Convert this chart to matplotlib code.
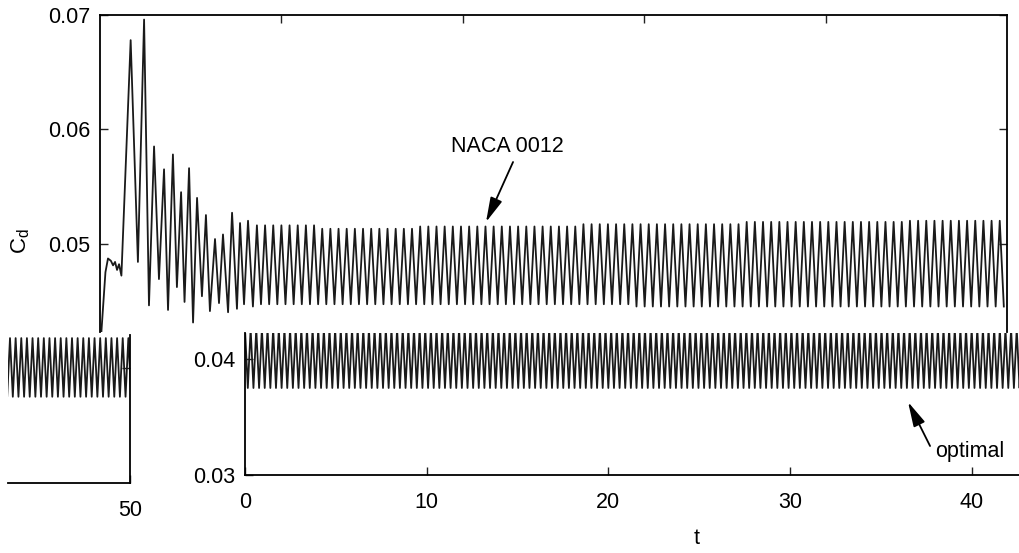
# Drag coefficient history: NACA 0012 (top) against the optimal shape (bottom)

import matplotlib.pyplot as plt
import numpy as np

plt.rcParams['font.family'] = ['Liberation Sans', 'DejaVu Sans']
plt.rcParams['mathtext.fontset'] = 'custom'
plt.rcParams['mathtext.rm'] = 'Liberation Sans'

W, H = 1020, 553
FS = 15.5

# NACA 0012 start-up transient, read extreme by extreme (t, Cd)
naca_t = [0.0, 0.15, 0.30, 0.44, 0.60, 0.72, 0.83, 0.94, 1.05, 1.18,
          1.69, 2.09, 2.43, 2.70, 2.98, 3.25, 3.53, 3.75, 4.02, 4.24,
          4.47, 4.66, 4.91, 5.13, 5.35, 5.62, 5.84, 6.06, 6.34, 6.56,
          6.78, 7.06, 7.28, 7.55, 7.72, 7.94, 8.16, 8.43]
naca_cd = [0.0405, 0.0440, 0.0475, 0.0487, 0.0485, 0.0481, 0.0484, 0.0477, 0.0482, 0.0472,
           0.0678, 0.0484, 0.0696, 0.0446, 0.0585, 0.0469, 0.0565, 0.0442, 0.0578, 0.0462,
           0.0545, 0.0449, 0.0566, 0.0431, 0.0540, 0.0454, 0.0525, 0.0441, 0.0504, 0.0448,
           0.0508, 0.0440, 0.0527, 0.0443, 0.0518, 0.0447, 0.0520, 0.0445]

# NACA 0012 periodic part: first peak time, period, peak / trough per cycle
naca_t0 = 8.65
naca_period = 0.45
naca_peak = [0.0516] * 8 + [0.0513] * 12 + [0.0515] * 20 + [0.0517] * 20 + [0.0519] * 20 + [0.0520] * 12
naca_trough = [0.0447] * 46 + [0.0445] * 46

# optimal shape: periodic from the start
opt_t0 = 0.0
opt_period = 0.31
opt_peak = [0.0426] * 162
opt_trough = [0.0375] * 162


def zigzag(t0, period, hi, lo):
    '''Joins peak and trough values of each cycle into one line'''
    tp = t0 + period * np.arange(len(hi))
    t = np.column_stack([tp, tp + period / 2]).ravel()
    v = np.column_stack([hi, lo]).ravel()
    return t, v


def px_axes(fig, l, t, r, b):
    '''Adds axes given by pixel edges of the picture'''
    ax = fig.add_axes([l / W, 1 - b / H, (r - l) / W, (b - t) / H])
    ax.set_facecolor('none')
    for s in ax.spines.values():
        s.set_linewidth(1.3)
    ax.tick_params(direction='in', length=5.5, width=1.0, labelsize=FS,
                   pad=7, color='#222222')
    return ax


fig = plt.figure(figsize=(W / 100, H / 100), dpi=100)

lw = 1.3
col = '#1a1a1a'
arrow = dict(arrowstyle='-|>,head_length=1.0,head_width=0.25',
             color='black', lw=1.3, mutation_scale=15, shrinkA=0, shrinkB=0)

# top panel: NACA 0012
ax1 = px_axes(fig, 100, 15, 1007, 332)
tz, vz = zigzag(naca_t0, naca_period, naca_peak, naca_trough)
ax1.plot(np.concatenate([naca_t, tz]), np.concatenate([naca_cd, vz]), color=col, lw=lw)
ax1.set_xlim(0, 50)
ax1.set_ylim(0.04227, 0.07)
ax1.spines['bottom'].set_visible(False)
ax1.set_xticks([10, 20, 30, 40])
ax1.tick_params(axis='x', top=True, bottom=False, labeltop=False, labelbottom=False)
ax1.set_yticks([0.05, 0.06, 0.07])
ax1.set_yticklabels(['0.05', '0.06', '0.07'])
ax1.tick_params(axis='y', left=True, right=True, labelright=False)
ax1.text(22.44, 0.05760, 'NACA 0012', ha='center', va='bottom', fontsize=FS)
ax1.annotate('', xy=(21.28, 0.05189), xytext=(22.77, 0.05714), arrowprops=arrow)

# optimal shape, both pieces use the same series
to, vo = zigzag(opt_t0, opt_period, opt_peak, opt_trough)

# bottom panel
ax2 = px_axes(fig, 245, 333, 1020, 475)
ax2.plot(to, vo, color=col, lw=lw)
ax2.set_xlim(0, 42.65)
ax2.set_ylim(0.03, 0.04224)
ax2.spines['top'].set_visible(False)
ax2.spines['right'].set_visible(False)
ax2.set_xticks([0, 10, 20, 30, 40])
ax2.set_xticklabels(['0', '10', '20', '30', '40'])
ax2.tick_params(axis='x', pad=12)
ax2.set_yticks([0.03, 0.04])
ax2.set_yticklabels(['0.03', '0.04'])
ax2.text(38.0, 0.0320, 'optimal', ha='left', va='center', fontsize=FS)
ax2.annotate('', xy=(36.49, 0.03629), xytext=(37.70, 0.0325), arrowprops=arrow)

# left piece: the end of the optimal run
ax3 = px_axes(fig, 8, 335, 130, 483)
ax3.plot(to, vo, color=col, lw=lw)
ax3.set_xlim(43.29, 50)
ax3.set_ylim(0.03, 0.04287)
ax3.spines['top'].set_visible(False)
ax3.spines['left'].set_visible(False)
ax3.set_xticks([50])
ax3.set_xticklabels(['50'])
ax3.tick_params(axis='x', pad=12)
ax3.yaxis.tick_right()
ax3.set_yticks([0.04])
ax3.tick_params(axis='y', labelright=False)

fig.text(21 / W, 1 - 241 / H, r'C$_\mathregular{d}$', rotation=90,
         ha='center', va='center', fontsize=16)
fig.text(697 / W, 1 - 538 / H, 't', ha='center', va='center', fontsize=FS)

fig.savefig('out.png', dpi=100)
